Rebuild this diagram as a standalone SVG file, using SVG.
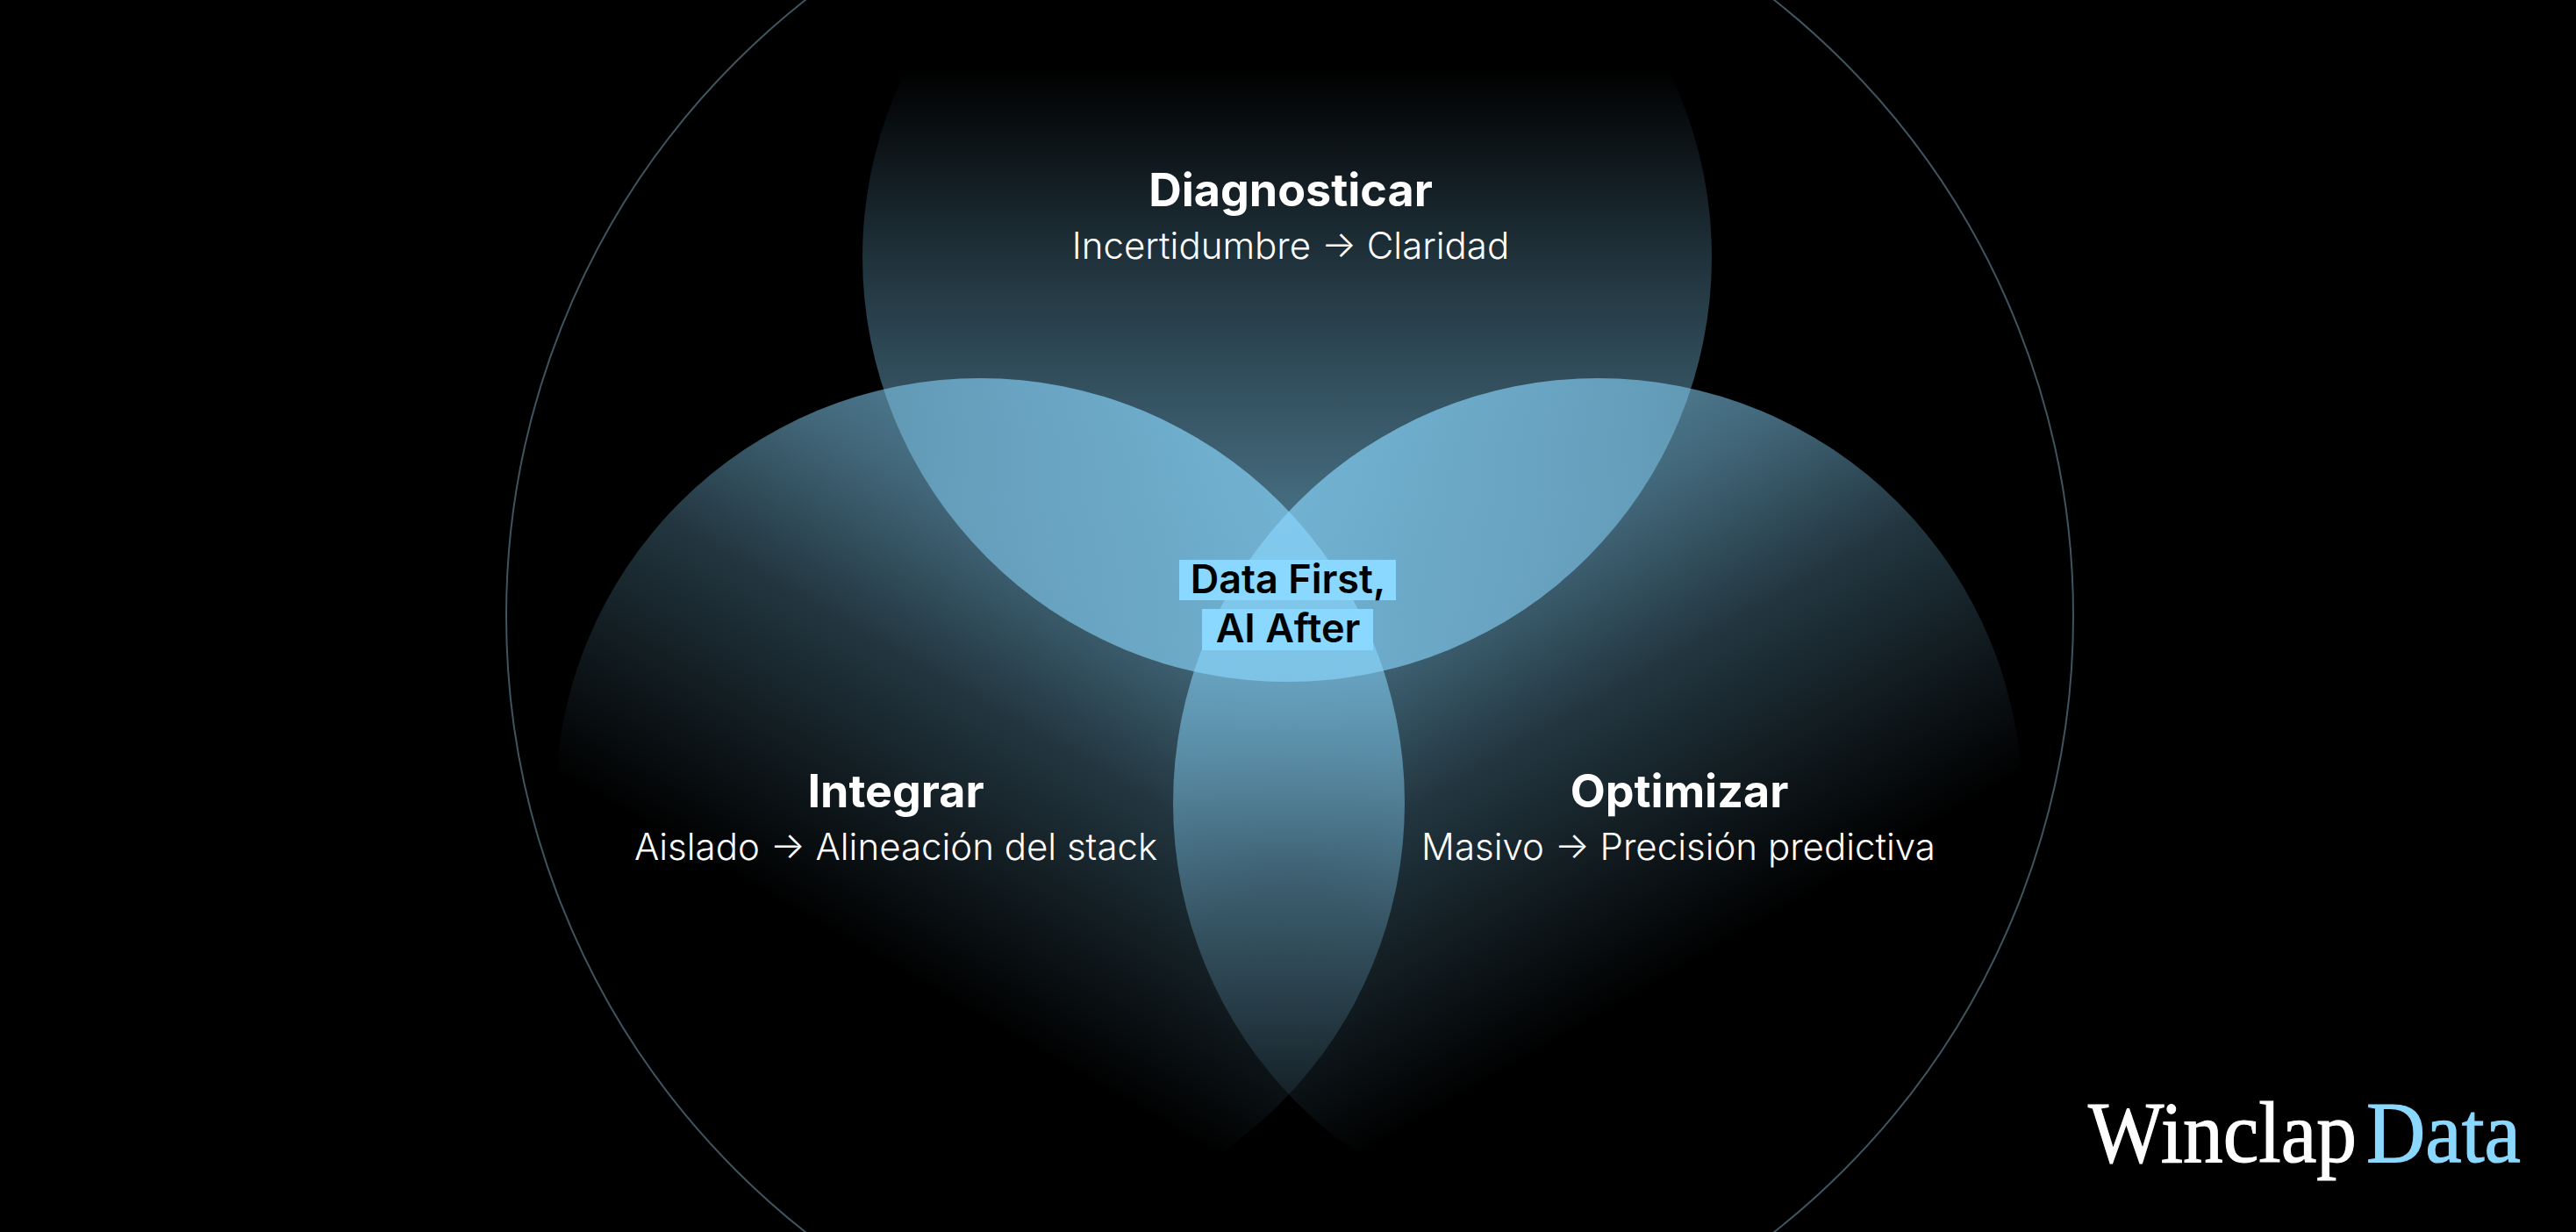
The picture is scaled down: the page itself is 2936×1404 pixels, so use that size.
<svg xmlns="http://www.w3.org/2000/svg" width="2936" height="1404" viewBox="0 0 2936 1404">
<style>
.t{font-family:"Inter","Liberation Sans",sans-serif;text-anchor:middle;fill:#fff}
.h{font-size:52px;font-weight:700}
.s{font-size:42px;font-weight:300}
.c{font-family:"Inter","Liberation Sans",sans-serif;text-anchor:middle;fill:#000;font-size:45px;font-weight:600}
.l{font-family:"Liberation Serif",serif;font-size:99px;stroke-width:1.2px}
.hl{fill:#8ad8ff}
.a{stop-color:#8ad8ff;stop-opacity:0}
.m{stop-color:#8ad8ff;stop-opacity:.26}
.n{stop-color:#8ad8ff;stop-opacity:.25}
.d{stop-color:#8ad8ff;stop-opacity:.49}
.p{stop-color:#8ad8ff;stop-opacity:.47}
.e{stop-color:#8ad8ff;stop-opacity:.63}
.f{stop-color:#8ad8ff;stop-opacity:.66}
</style>
<defs>
<linearGradient id="gt" gradientUnits="userSpaceOnUse" x1="1467" y1="80" x2="1467" y2="777"><stop offset="0" class="a"/><stop offset=".35" class="m"/><stop offset=".7" class="d"/><stop offset="1" class="e"/></linearGradient>
<linearGradient id="gl" gradientUnits="userSpaceOnUse" x1="1010" y1="1099" x2="1359" y2="496"><stop offset="0" class="a"/><stop offset=".45" class="n"/><stop offset=".7" class="p"/><stop offset="1" class="f"/></linearGradient>
<linearGradient id="gr" gradientUnits="userSpaceOnUse" x1="1928" y1="1099" x2="1579" y2="496"><stop offset="0" class="a"/><stop offset=".45" class="n"/><stop offset=".7" class="p"/><stop offset="1" class="f"/></linearGradient>
</defs>
<rect width="2936" height="1404" fill="#000"/>
<circle id="outer" cx="1470" cy="702" r="893" fill="none" stroke="#3f545f" stroke-width="2"/>
<g id="diagnosticar"><circle cx="1467" cy="293" r="484" fill="url(#gt)"/></g>
<g id="integrar"><circle cx="1117" cy="915" r="484" fill="url(#gl)"/></g>
<g id="optimizar"><circle cx="1821" cy="915" r="484" fill="url(#gr)"/></g>
<g id="label-diagnosticar"><text class="t h" x="1471" y="235">Diagnosticar</text><text class="t s" x="1471" y="295">Incertidumbre → Claridad</text></g>
<g id="label-integrar"><text class="t h" x="1021" y="920">Integrar</text><text class="t s" x="1021" y="980">Aislado → Alineación del stack</text></g>
<g id="label-optimizar"><text class="t h" x="1914" y="920">Optimizar</text><text class="t s" x="1913" y="980">Masivo → Precisión predictiva</text></g>
<g id="center"><rect class="hl" x="1344" y="638" width="247" height="46"/><rect class="hl" x="1370" y="694" width="195" height="47"/><text class="c" x="1468" y="676">Data First,</text><text class="c" x="1468" y="732">AI After</text></g>
<g id="logo"><text class="l" x="2380" y="1324" fill="#fff" stroke="#fff" textLength="306" lengthAdjust="spacingAndGlyphs">Winclap</text><text class="l" x="2697" y="1324" fill="#8ad8ff" stroke="#8ad8ff" textLength="176" lengthAdjust="spacingAndGlyphs">Data</text></g>
</svg>
